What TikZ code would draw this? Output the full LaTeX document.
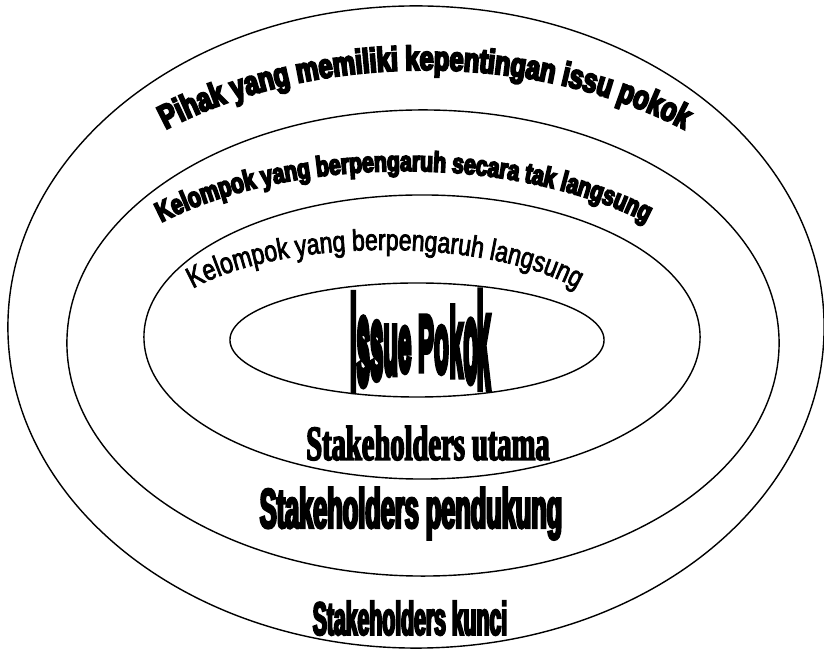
\documentclass[tikz,border=0pt]{standalone}
\usepackage{fontspec}
\usepackage{tikz}
\usetikzlibrary{shapes.geometric, decorations.text, calc}

\newfontfamily\archfont{Liberation Sans Bold}[FakeStretch=0.75, FakeBold=6]
\newfontfamily\ringfont{Liberation Sans}[FakeStretch=0.78, FakeBold=2.5]
\newfontfamily\stakefont{Liberation Sans Bold}[FakeStretch=0.45, FakeBold=4]
\newfontfamily\utamafont{Liberation Serif Bold}[FakeStretch=0.58, FakeBold=3]
\newfontfamily\issuefont{Liberation Sans Bold}[FakeBold=9]

\begin{document}
\begin{tikzpicture}[x=0.025cm, y=0.025cm,
  ring/.style={draw, ellipse, line width=1pt, inner sep=0pt},
  issue/.style={anchor=base, inner sep=0pt, xscale=0.85,
    font=\issuefont\fontsize{20}{20}\selectfont},
  stake/.style={anchor=base, inner sep=0pt}]
  \useasboundingbox (0,0) rectangle (824,651);

  % Rings, outside in
  \node[ring, minimum width=20.4cm, minimum height=16.05cm] (kunci) at (416,324) {};
  \node[ring, minimum width=17.8cm, minimum height=11.65cm] (dukung) at (423,308) {};
  \node[ring, minimum width=13.9cm, minimum height=7.1cm] (utama) at (422,314) {};
  \node[ring, minimum width=9.35cm, minimum height=2.85cm] (pokok) at (417,311) {};

  % Arched labels
  \coordinate (c1) at (425,324);
  \coordinate (c2) at (404,308);
  \coordinate (c3) at (385,314);
  \path[decorate, decoration={text along path, text align=center,
    text={|\archfont\fontsize{24}{24}\selectfont|Pihak yang memiliki kepentingan issu pokok}}]
    ($(c1)+(140:405 and 257)$) arc[start angle=140, end angle=40, x radius=405, y radius=257];
  \path[decorate, decoration={text along path, text align=center,
    text={|\archfont\fontsize{20}{20}\selectfont|Kelompok yang berpengaruh secara tak langsung}}]
    ($(c2)+(150:340 and 172)$) arc[start angle=150, end angle=30, x radius=340, y radius=172];
  \path[decorate, decoration={text along path, text align=center,
    text={|\ringfont\fontsize{21}{21}\selectfont|Kelompok yang berpengaruh langsung}}]
    ($(c3)+(170:231 and 87)$) arc[start angle=170, end angle=10, x radius=231, y radius=87];

  % Issue Pokok, letters squeezed in the middle
  \foreach \letr/\xx [count=\i] in {I/353.3, s/363.3, s/376.7, u/390.7, e/404.7,
      P/426.0, o/441.4, k/456.1, o/470.7, k/483.4}{
    \pgfmathsetmacro\dd{((\xx-420)/70)^2}
    \pgfmathsetmacro\hh{(55+45*\dd)/20.1}
    \pgfmathsetmacro\bb{281-20*\dd}
    \node[issue, yscale=\hh] (iss\i) at (\xx,\bb) {\letr};
  }

  % Stakeholder labels
  \node[stake, font=\utamafont\fontsize{35}{35}\selectfont] (lblutama) at (428,191) {Stakeholders utama};
  \node[stake, font=\stakefont\fontsize{40}{40}\selectfont] (lbldukung) at (411,123) {Stakeholders pendukung};
  \node[stake, font=\stakefont\fontsize{33.5}{33.5}\selectfont] (lblkunci) at (410,16) {Stakeholders kunci};
\end{tikzpicture}
\end{document}
